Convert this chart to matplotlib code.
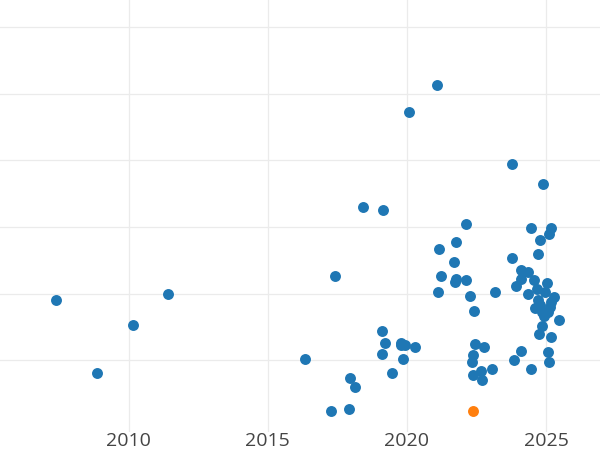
import matplotlib
matplotlib.use("Agg")
import matplotlib.pyplot as plt

# year of each point and its value (in units of the horizontal gridline step)
years = [2021.08, 2020.08, 2023.78, 2024.89, 2018.43, 2019.15, 2017.43, 2011.43,
         2007.38, 2010.15, 2008.88, 2016.33, 2019.12, 2019.20, 2019.78, 2019.78,
         2019.93, 2020.29, 2019.11, 2019.85, 2019.45, 2017.97, 2018.15, 2017.28,
         2017.93, 2022.11, 2021.76, 2021.15, 2021.70, 2021.23, 2021.76, 2021.73,
         2022.11, 2021.12, 2022.27, 2023.18, 2022.42, 2022.46, 2022.78, 2022.39,
         2022.35, 2023.07, 2022.66, 2022.38, 2022.70, 2024.45, 2025.18, 2025.12,
         2024.77, 2024.71, 2023.77, 2024.10, 2024.36, 2024.10, 2024.58, 2025.02,
         2023.93, 2024.36, 2024.67, 2024.95, 2024.71, 2025.27, 2025.19, 2025.15,
         2024.79, 2024.61, 2024.85, 2025.07, 2024.92, 2025.45, 2024.87, 2024.76,
         2025.18, 2024.10, 2025.06, 2023.84, 2025.10, 2024.47]
values = [4.13, 3.72, 2.94, 2.64, 2.30, 2.26, 1.27, 1.00,
          0.90, 0.52, -0.20, 0.02, 0.43, 0.25, 0.26, 0.22,
          0.22, 0.19, 0.09, 0.02, -0.19, -0.27, -0.40, -0.76,
          -0.73, 2.04, 1.78, 1.67, 1.48, 1.27, 1.22, 1.18,
          1.21, 1.02, 0.97, 1.02, 0.74, 0.24, 0.19, 0.08,
          -0.03, -0.13, -0.17, -0.23, -0.30, 1.98, 1.98, 1.89,
          1.80, 1.59, 1.53, 1.35, 1.33, 1.22, 1.21, 1.16,
          1.11, 1.00, 1.07, 1.03, 0.90, 0.95, 0.88, 0.80,
          0.83, 0.79, 0.73, 0.73, 0.67, 0.61, 0.51, 0.39,
          0.34, 0.14, 0.12, 0.00, -0.03, -0.14]

# highlighted point
hl_year = [2022.38]
hl_value = [-0.77]

xticks = [2010, 2015, 2020, 2025]
yticks = [0, 1, 2, 3, 4, 5]

fig = plt.figure(figsize=(6, 4.5), dpi=100)
ax = fig.add_axes([0, 0.04, 1, 0.96])

ax.scatter(years, values, s=62, color="#1f77b4", linewidths=0, zorder=3)
ax.scatter(hl_year, hl_value, s=62, color="#ff7f0e", linewidths=0, zorder=3)

ax.set_xlim(2005.38, 2026.94)
ax.set_ylim(-1.08, 5.41)
ax.set_xticks(xticks)
ax.set_xticklabels([str(t) for t in xticks], fontfamily="Open Sans",
                   fontsize=14, color="#444444")
ax.set_yticks(yticks)
ax.set_yticklabels([])
ax.tick_params(length=0, pad=0)
ax.grid(True, color="#ebebeb", linewidth=0.9, zorder=0)
ax.set_axisbelow(True)
for s in ax.spines.values():
    s.set_visible(False)

fig.savefig("out.png", dpi=100)
